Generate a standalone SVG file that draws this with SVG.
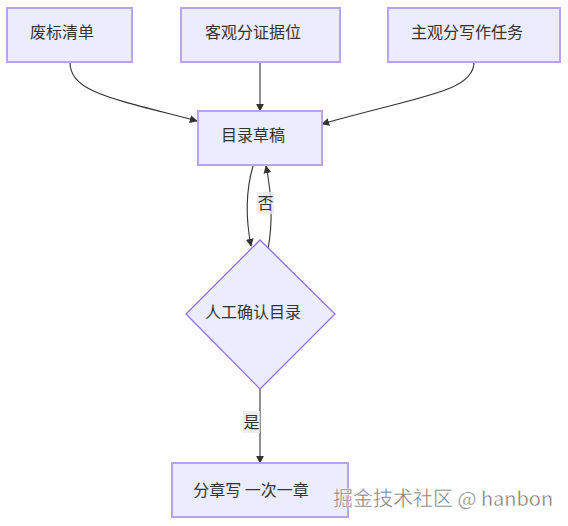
<svg xmlns="http://www.w3.org/2000/svg" width="568" height="526" viewBox="0 0 568 526">
<defs>
<style>
.node rect, .node polygon { fill: #ECECFF; stroke: #9370DB; stroke-width: 1.3; }
.node rect { stroke: #B9A3EC; stroke-width: 2; }
.lbl { font-family: "Noto Sans CJK SC", "Liberation Sans", sans-serif; font-size: 16px; fill: #333; text-anchor: middle; dominant-baseline: central; }
.edge { fill: none; stroke: #333; stroke-width: 1.1; }
.elbg { fill: #E8E8E8; opacity: 0.8; }
.wm { font-family: "Noto Sans CJK SC", "Liberation Sans", sans-serif; font-size: 20px; fill: #7a7a7a; stroke: #ffffff; stroke-width: 0.4; }
</style>
<marker id="arr" viewBox="0 0 10 10" refX="9" refY="5" markerWidth="8" markerHeight="8" orient="auto" markerUnits="userSpaceOnUse">
<path d="M0,0 L10,5 L0,10 z" fill="#333"/>
</marker>
</defs>
<rect width="568" height="526" fill="#ffffff"/>
<g id="connectors">
<path class="edge" d="M70,62 C70,92 110,98 197,121" marker-end="url(#arr)"/>
<path class="edge" d="M260,62 L260,111" marker-end="url(#arr)"/>
<path class="edge" d="M474,62 C474,92 420,96 322,124" marker-end="url(#arr)"/>
<path class="edge" d="M253,166 C246,190 245,215 251,246" marker-end="url(#arr)"/>
<path class="edge" d="M268,249 C273,222 272,195 266,166" marker-end="url(#arr)"/>
<path class="edge" d="M260,389 L260,463" marker-end="url(#arr)"/>
<rect class="elbg" x="257" y="192" width="17" height="22"/>
<text class="lbl" x="265.5" y="202">否</text>
<rect class="elbg" x="243" y="411" width="17" height="22"/>
<text class="lbl" x="251.5" y="421">是</text>
</g>
<g id="n1" class="node"><rect x="7" y="8" width="125" height="54"/><text class="lbl" x="62" y="31">废标清单</text></g>
<g id="n2" class="node"><rect x="181" y="8" width="159" height="54"/><text class="lbl" x="253" y="31">客观分证据位</text></g>
<g id="n3" class="node"><rect x="388" y="8" width="172" height="54"/><text class="lbl" x="467" y="31">主观分写作任务</text></g>
<g id="n4" class="node"><rect x="198" y="111" width="124" height="54"/><text class="lbl" x="253" y="134">目录草稿</text></g>
<g id="n5" class="node"><polygon points="260,240 335,314 260,389 186,314"/><text class="lbl" x="253" y="311">人工确认目录</text></g>
<g id="n6" class="node"><rect x="172" y="463" width="176" height="54"/><text class="lbl" x="251" y="489">分章写 一次一章</text></g>
<text class="wm" x="333" y="506">掘金技术社区 @ hanbon</text>
</svg>
